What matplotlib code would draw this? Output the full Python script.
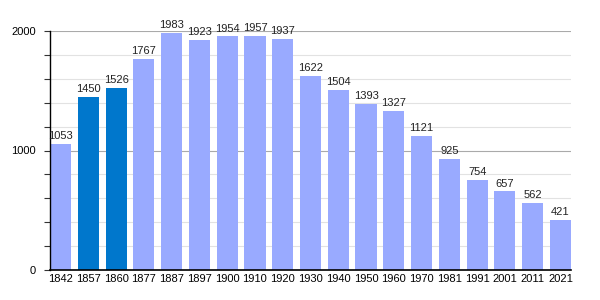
import matplotlib

matplotlib.use("Agg")
import matplotlib.pyplot as plt  # noqa: E402
from matplotlib.ticker import MultipleLocator  # noqa: E402

years = ["1842", "1857", "1860", "1877", "1887", "1897", "1900", "1910", "1920",
         "1930", "1940", "1950", "1960", "1970", "1981", "1991", "2001", "2011", "2021"]
population = [1053, 1450, 1526, 1767, 1983, 1923, 1954, 1957, 1937,
              1622, 1504, 1393, 1327, 1121, 925, 754, 657, 562, 421]
highlighted = {"1857", "1860"}

plt.rcParams["font.family"] = ["Liberation Sans", "DejaVu Sans"]

fig = plt.figure(figsize=(6, 3), dpi=100)
ax = fig.add_axes([50 / 600, 30 / 300, 521 / 600, 239 / 300])

width = 0.76
xs = list(range(len(years)))
colors = ["#0077cc" if y in highlighted else "#99aaff" for y in years]
ax.bar(xs, population, width=width, color=colors, zorder=2)

for x, v in zip(xs, population):
    ax.text(x, v + 25, str(v), ha="center", va="bottom", fontsize=8,
            color="#222222", clip_on=False)

ax.set_xlim(-width / 2, len(years) - 1 + width / 2)
ax.set_ylim(0, 2000)
ax.set_xticks(xs)
ax.set_xticklabels(years, fontsize=8)
ax.tick_params(axis="x", length=0, pad=3)

ax.yaxis.set_major_locator(MultipleLocator(1000))
ax.yaxis.set_minor_locator(MultipleLocator(200))
ax.tick_params(axis="y", which="both", length=4, width=0.8, color="#333333",
               labelsize=8, pad=6)
ax.grid(axis="y", which="major", color="#aaaaaa", linewidth=0.8, zorder=0)
ax.grid(axis="y", which="minor", color="#e2e2e2", linewidth=0.8, zorder=0)
ax.set_axisbelow(True)

for side in ("top", "right"):
    ax.spines[side].set_visible(False)
ax.spines["left"].set_linewidth(1)
ax.spines["bottom"].set_linewidth(1.2)

fig.savefig("out.png", dpi=100)
